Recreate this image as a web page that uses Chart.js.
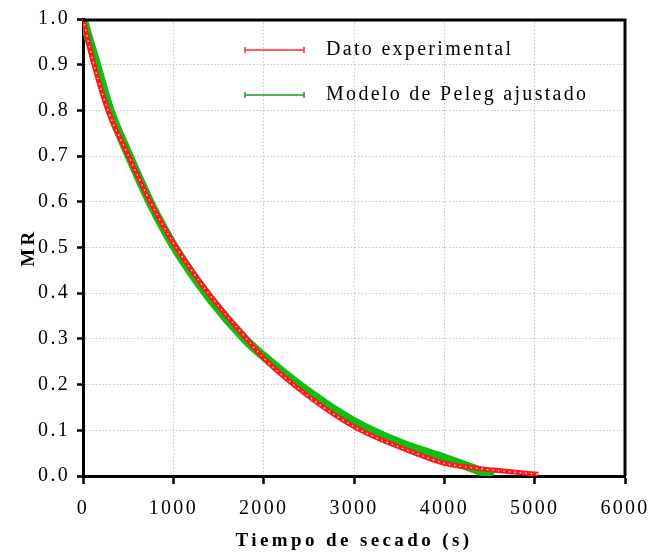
<!DOCTYPE html>
<html>
<head>
<meta charset="utf-8">
<script src="https://cdn.jsdelivr.net/npm/chart.js@4.4.1/dist/chart.umd.min.js"></script>
<style>
  html,body{margin:0;padding:0;background:#fff;}
  #wrap{width:649px;height:552px;}
</style>
</head>
<body>
<div id="wrap"><canvas id="chart"></canvas></div>
<script>
// data
const expTime   = [0, 122, 277, 506, 745, 1000, 1388, 1813, 2000, 2330, 3000, 3732, 4000, 4540, 5040];
const expMR     = [1.0, 0.9, 0.8, 0.7, 0.6, 0.51, 0.4, 0.3, 0.258, 0.2, 0.108, 0.046, 0.028, 0.013, 0.004];
const modelTime = [0, 150, 300, 500, 750, 1000, 1400, 1800, 2000, 2400, 3000, 3500, 4000, 4300, 4540];
const modelMR   = [1.0, 0.9, 0.8, 0.705, 0.596, 0.505, 0.39, 0.298, 0.262, 0.198, 0.119, 0.073, 0.039, 0.018, 0.0];
const xTicks = [0, 1000, 2000, 3000, 4000, 5000, 6000];
const yTicks = [0, 0.1, 0.2, 0.3, 0.4, 0.5, 0.6, 0.7, 0.8, 0.9, 1.0];
const seriesNames = ['Dato experimental', 'Modelo de Peleg ajustado'];
const xTitle = 'Tiempo de secado (s)';
const yTitle = 'MR';

const FONT = "'Liberation Serif', 'Times New Roman', serif";
const pts = (xs, ys) => xs.map((x, i) => ({x, y: ys[i]}));

const deco = {
  id: 'deco',
  beforeLayout(c){ c.ctx.letterSpacing = '2.3px'; },
  beforeDraw(c){ c.ctx.letterSpacing = '2.3px'; },
  afterDatasetsDraw(c){
    // white speckles inside the red marker band
    const el = c.getDatasetMeta(0).dataset;
    const saved = el.options;
    el.options = Object.assign({}, saved, {borderColor: 'rgba(255,255,255,0.9)', borderWidth: 1.3, borderDash: [1.5, 4]});
    c.ctx.save();
    el.draw(c.ctx, c.chartArea);
    c.ctx.restore();
    el.options = saved;
  },
  afterDraw(c){
    const {ctx, chartArea: a} = c;
    ctx.save();
    // top and right frame
    ctx.strokeStyle = '#000';
    ctx.lineWidth = 3;
    ctx.beginPath();
    ctx.moveTo(a.left, a.top + 1);
    ctx.lineTo(a.right, a.top + 1);
    ctx.lineTo(a.right, a.bottom);
    ctx.stroke();

    // legend
    const cols = ['#ff2a2a', '#1e9a1e'];
    const rows = [a.top + 31, a.top + 76];
    ctx.lineWidth = 1.5;
    ctx.font = '20px ' + FONT;
    ctx.fillStyle = '#000';
    ctx.textBaseline = 'middle';
    ctx.letterSpacing = '2.3px';
    seriesNames.forEach((name, i) => {
      const y = rows[i], x0 = a.left + 162, x1 = a.left + 221;
      ctx.strokeStyle = cols[i];
      ctx.beginPath();
      ctx.moveTo(x0, y); ctx.lineTo(x1, y);
      ctx.moveTo(x0, y - 3); ctx.lineTo(x0, y + 3);
      ctx.moveTo(x1, y - 3); ctx.lineTo(x1, y + 3);
      ctx.stroke();
      ctx.fillText(name, a.left + 243, y);
    });

    // axis titles
    ctx.font = 'bold 19px ' + FONT;
    ctx.letterSpacing = '3.4px';
    ctx.textAlign = 'center';
    ctx.fillText(xTitle, (a.left + a.right) / 2, 541);
    ctx.translate(29, (a.top + a.bottom) / 2);
    ctx.rotate(-Math.PI / 2);
    ctx.fillText(yTitle, 0, 0);
    ctx.restore();
    ctx.letterSpacing = '2.3px';
  }
};

new Chart(document.getElementById('chart'), {
  type: 'line',
  data: {
    datasets: [
      {
        label: seriesNames[0],
        data: pts(expTime, expMR),
        borderColor: '#ff1a1a',
        borderWidth: 5,
        pointRadius: 0,
        cubicInterpolationMode: 'monotone'
      },
      {
        label: seriesNames[1],
        data: pts(modelTime, modelMR),
        borderColor: '#0fbf0f',
        borderWidth: 9,
        pointRadius: 0,
        cubicInterpolationMode: 'monotone'
      }
    ]
  },
  options: {
    responsive: true,
    maintainAspectRatio: false,
    animation: false,
    layout: {padding: {left: 0, right: 24, top: 19, bottom: 0}},
    plugins: {legend: {display: false}, tooltip: {enabled: false}},
    scales: {
      x: {
        type: 'linear',
        min: 0, max: 6000,
        afterBuildTicks: s => { s.ticks = xTicks.map(v => ({value: v})); },
        afterFit: s => { s.height = 76; s.paddingLeft = 0; s.paddingRight = 0; },
        ticks: {color: '#000', font: {family: FONT, size: 20}, padding: 13, maxRotation: 0, autoSkip: false, callback: v => String(v)},
        grid: {color: '#c4c4c4', lineWidth: 1, tickLength: 8, tickColor: '#000', tickWidth: 2.5},
        border: {color: '#000', width: 3, dash: [1.5, 2]}
      },
      y: {
        type: 'linear',
        min: 0, max: 1,
        afterBuildTicks: s => { s.ticks = yTicks.map(v => ({value: v})); },
        afterFit: s => { s.width = 83; s.paddingTop = 0; s.paddingBottom = 0; },
        ticks: {color: '#000', font: {family: FONT, size: 20}, padding: 7, callback: v => v.toFixed(1), autoSkip: false},
        grid: {color: '#c4c4c4', lineWidth: 1, tickLength: 6, tickColor: '#000', tickWidth: 2.5},
        border: {color: '#000', width: 3, dash: [1.5, 2]}
      }
    }
  },
  plugins: [deco]
});
</script>
</body>
</html>
